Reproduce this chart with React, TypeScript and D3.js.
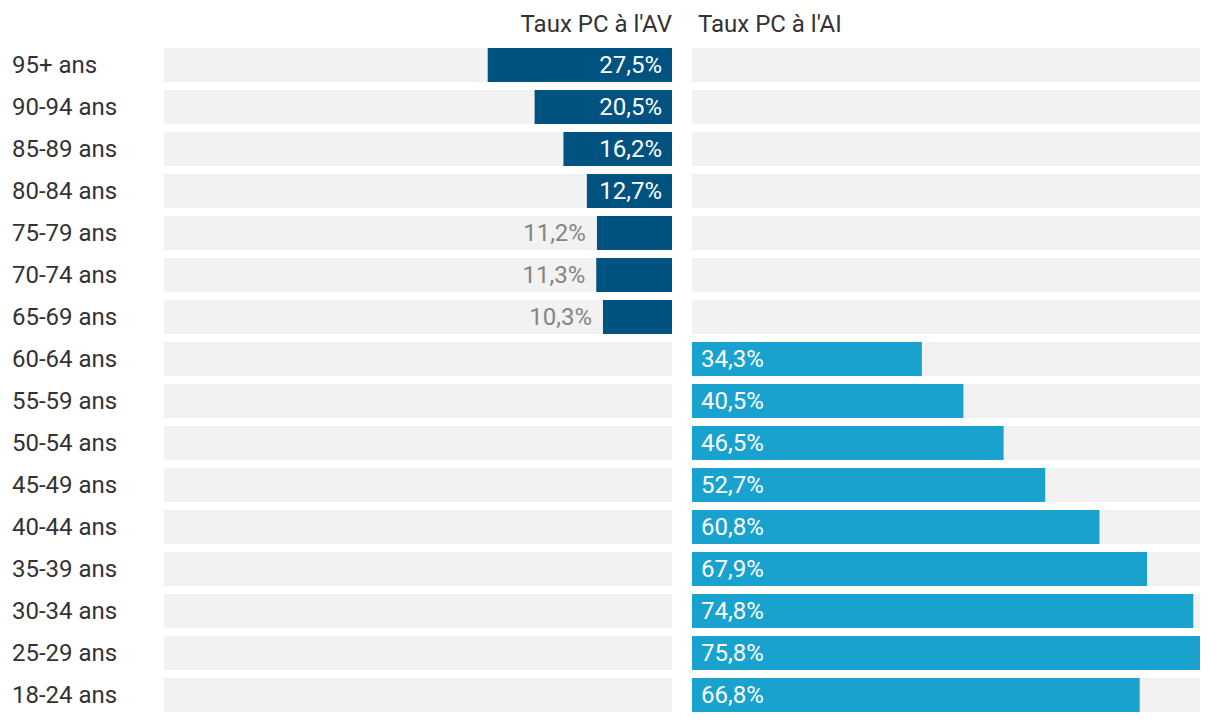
import React from "react";
import * as d3 from "d3";

const categories = ["95+ ans","90-94 ans","85-89 ans","80-84 ans","75-79 ans","70-74 ans","65-69 ans","60-64 ans","55-59 ans","50-54 ans","45-49 ans","40-44 ans","35-39 ans","30-34 ans","25-29 ans","18-24 ans"];
const avValues: (number | null)[] = [27.5,20.5,16.2,12.7,11.2,11.3,10.3,null,null,null,null,null,null,null,null,null];
const aiValues: (number | null)[] = [null,null,null,null,null,null,null,34.3,40.5,46.5,52.7,60.8,67.9,74.8,75.8,66.8];
const seriesNames = ["Taux PC à l'AV", "Taux PC à l'AI"];

const W = 1220, H = 722;
const FONT = "Roboto, 'Noto Sans', sans-serif";
const FS = 24;
const fmt = (v: number) => v.toFixed(1).replace(".", ",") + "%";

export default function App() {
  const leftX0 = 164, leftX1 = 672, rightX0 = 692, rightX1 = 1200;
  const panelW = leftX1 - leftX0;
  const maxV = d3.max([...avValues, ...aiValues].filter((v): v is number => v != null)) as number;
  const x = d3.scaleLinear().domain([0, maxV]).range([0, panelW]);
  const y = d3.scaleBand().domain(categories).range([48, 712]).paddingInner(8 / 42).paddingOuter(0);
  const bw = y.bandwidth();
  return (
    <svg width={W} height={H} style={{ position: "absolute", left: 0, top: 0, background: "#fff" }} fontFamily={FONT}>
      <text x={leftX1} y={24} textAnchor="end" dominantBaseline="central" fontSize={FS} fill="#333">{seriesNames[0]}</text>
      <text x={rightX0 + 6} y={24} textAnchor="start" dominantBaseline="central" fontSize={FS} fill="#333">{seriesNames[1]}</text>
      {categories.map((c, i) => {
        const yy = y(c) as number;
        const cy = yy + bw / 2;
        const av = avValues[i];
        const ai = aiValues[i];
        const avW = av != null ? x(av) : 0;
        const aiW = ai != null ? x(ai) : 0;
        const avInside = av != null && avW > 80;
        return (
          <g key={c}>
            <text x={12} y={cy} dominantBaseline="central" fontSize={FS} fill="#333">{c}</text>
            <rect x={leftX0} y={yy} width={panelW} height={bw} fill="#f2f2f2" />
            <rect x={rightX0} y={yy} width={rightX1 - rightX0} height={bw} fill="#f2f2f2" />
            {av != null && <rect x={leftX1 - avW} y={yy} width={avW} height={bw} fill="#005380" />}
            {av != null && (
              <text x={avInside ? leftX1 - 10 : leftX1 - avW - 11} y={cy} textAnchor="end" dominantBaseline="central" fontSize={FS} fill={avInside ? "#fff" : "#858585"}>{fmt(av)}</text>
            )}
            {ai != null && <rect x={rightX0} y={yy} width={aiW} height={bw} fill="#1aa2cf" />}
            {ai != null && (
              <text x={rightX0 + 9} y={cy} textAnchor="start" dominantBaseline="central" fontSize={FS} fill="#fff">{fmt(ai)}</text>
            )}
          </g>
        );
      })}
    </svg>
  );
}
